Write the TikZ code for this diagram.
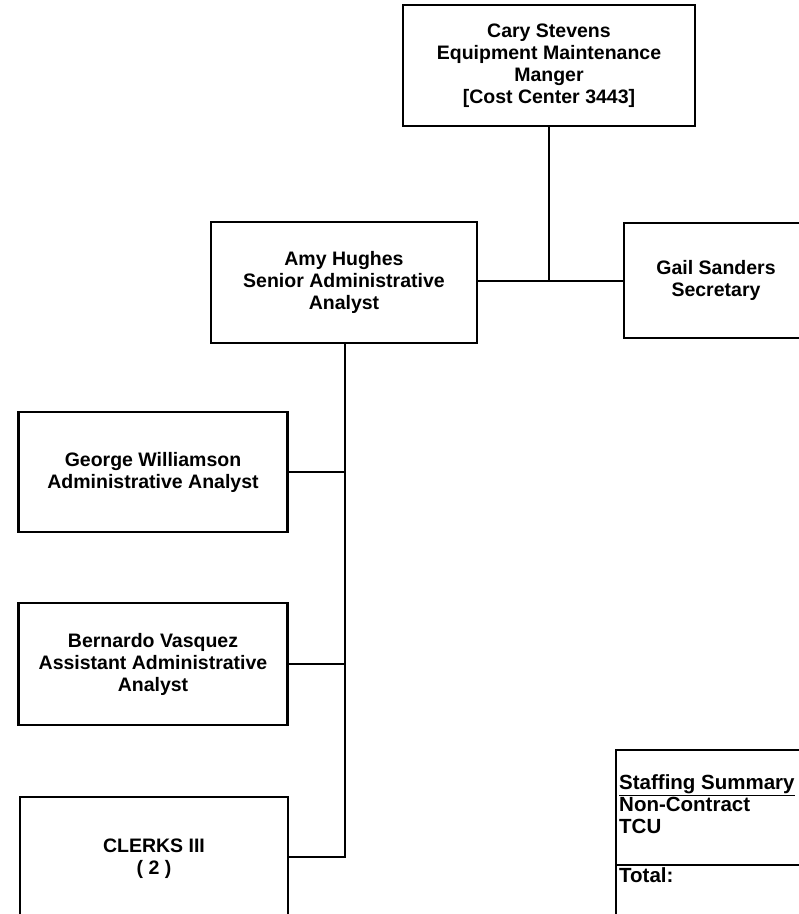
\documentclass[tikz,border=0pt]{standalone}
\usepackage{fontspec}
\setmainfont{Liberation Sans}
\usetikzlibrary{positioning}

\begin{document}
\begin{tikzpicture}[x=1pt, y=-1pt,
    box/.style={rectangle, draw, line width=2.2pt, align=center, inner sep=2pt,
      font=\bfseries\fontsize{19.5}{22}\selectfont},
    note/.style={align=left, inner sep=2pt, font=\bfseries\fontsize{20.5}{22}\selectfont},
    link/.style={line width=2.2pt}]
    \useasboundingbox (0,0) rectangle (799,914);
    \clip (0,0) rectangle (799,914);

    % top of the chart
    \node[box, minimum width=292pt, minimum height=121pt] (cary) at (549, 65.5)
      {Cary Stevens\\Equipment Maintenance\\Manger\\{[}Cost Center 3443{]}};
    \node[box, minimum width=266pt, minimum height=121pt] (amy) at (344, 282.5)
      {Amy Hughes\\Senior Administrative\\Analyst};
    \node[box, minimum width=184pt, minimum height=115pt] (gail) at (716, 280.5)
      {Gail Sanders\\Secretary};

    % staff under Amy
    \node[box, minimum width=269pt, minimum height=120pt] (george) at (153, 472)
      {George Williamson\\Administrative Analyst};
    \node[box, minimum width=269pt, minimum height=122pt] (bernardo) at (153, 664)
      {Bernardo Vasquez\\Assistant Administrative\\Analyst};
    \node[box, minimum width=268pt, minimum height=124pt] (clerks) at (154, 859)
      {CLERKS III\\( 2 )};

    % staffing summary
    \node[draw, line width=2.2pt, minimum width=260pt, minimum height=200pt,
      anchor=north west] (staff) at (615, 749) {};
    \node[note, anchor=north west] (summary) at (617, 772)
      {\underline{Staffing Summary}\\Non-Contract\\TCU};
    \node[note, anchor=west] (total) at (617, 875) {Total:};
    \draw[link] (615, 865) -- (799, 865);

    \coordinate (jn) at (549, 281);
    \coordinate (spine) at (345, 857);

    \draw[link] (cary.south) -- (jn);
    \draw[link] (amy.east |- jn) -- (gail.west |- jn);
    \draw[link] (amy.south -| spine) -- (spine) -- (clerks.east |- spine);
    \draw[link] (george.east) -- (george.east -| spine);
    \draw[link] (bernardo.east) -- (bernardo.east -| spine);
\end{tikzpicture}
\end{document}
